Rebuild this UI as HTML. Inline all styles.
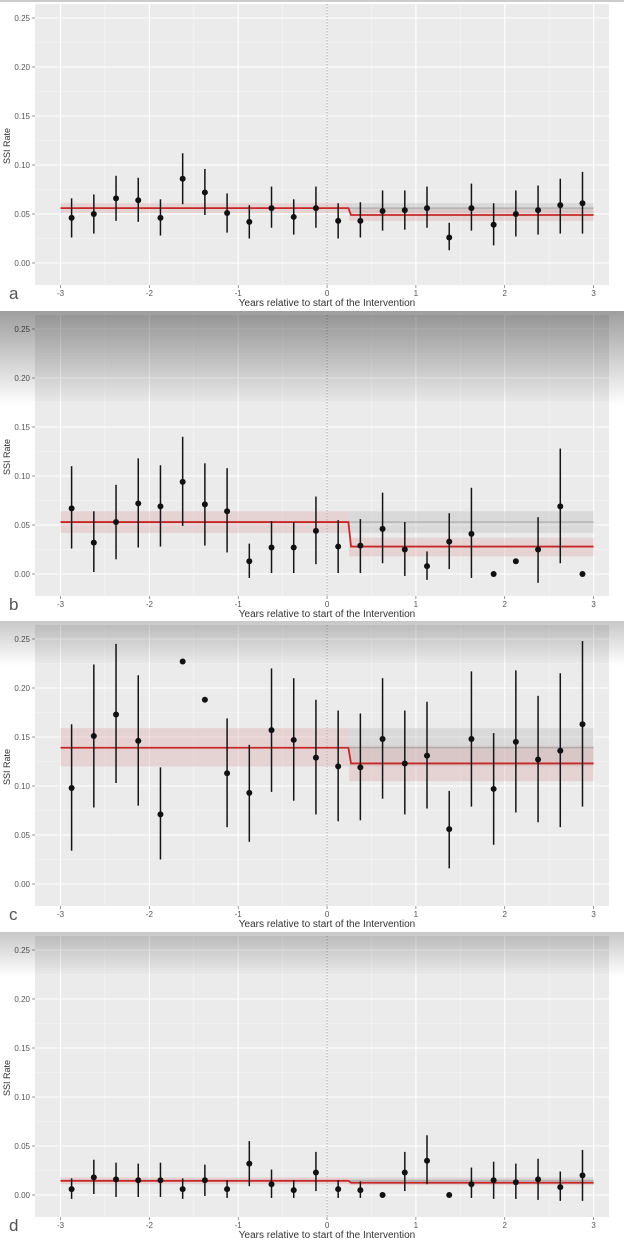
<!DOCTYPE html>
<html><head><meta charset="utf-8"><style>
html,body{margin:0;padding:0;background:#fff;}
svg{display:block;font-family:"Liberation Sans",sans-serif;}
</style></head><body>
<svg id="chart" width="624" height="1240" viewBox="0 0 624 1240" xmlns="http://www.w3.org/2000/svg">
<defs>
<linearGradient id="shadeStrong" x1="0" y1="0" x2="0" y2="1"><stop offset="0" stop-color="#000" stop-opacity="0.38"/><stop offset="1" stop-color="#000" stop-opacity="0"/></linearGradient>
<linearGradient id="shadeLight" x1="0" y1="0" x2="0" y2="1"><stop offset="0" stop-color="#000" stop-opacity="0.22"/><stop offset="1" stop-color="#000" stop-opacity="0"/></linearGradient>
</defs>
</svg>
<script>
const panelLabels = ['a','b','c','d'];
const xPoints = [-2.875,-2.625,-2.375,-2.125,-1.875,-1.625,-1.375,-1.125,-0.875,-0.625,-0.375,-0.125,0.125,0.375,0.625,0.875,1.125,1.375,1.625,1.875,2.125,2.375,2.625,2.875];
const xTicks = [-3,-2,-1,0,1,2,3];
const yTicks = [0,0.05,0.10,0.15,0.20,0.25];
const yTickLabels = ['0.00','0.05','0.10','0.15','0.20','0.25'];

const rateA = [.046,.050,.066,.064,.046,.086,.072,.051,.042,.056,.047,.056,.043,.043,.053,.054,.056,.026,.056,.039,.050,.054,.059,.061];
const lowA  = [.026,.030,.043,.042,.028,.060,.049,.031,.025,.036,.029,.036,.025,.026,.033,.034,.036,.013,.033,.018,.027,.029,.030,.030];
const highA = [.066,.070,.089,.087,.065,.112,.096,.071,.059,.078,.065,.078,.061,.062,.074,.074,.078,.041,.081,.061,.074,.079,.086,.093];
const fitA = [0.056,0.051,0.061,0.049,0.043,0.055];

const rateB = [.067,.032,.053,.072,.069,.094,.071,.064,.013,.027,.027,.044,.028,.029,.046,.025,.008,.033,.041,0,.013,.025,.069,0];
const lowB  = [.026,.002,.015,.027,.028,.049,.029,.022,-.004,.001,.001,.010,.001,.001,.011,-.002,-.006,.005,-.004,null,null,-.009,.011,null];
const highB = [.110,.064,.091,.118,.111,.140,.113,.108,.031,.054,.053,.079,.055,.056,.083,.053,.023,.062,.088,null,null,.058,.128,null];
const fitB = [0.053,0.042,0.064,0.028,0.018,0.037];

const rateC = [.098,.151,.173,.146,.071,.227,.188,.113,.093,.157,.147,.129,.120,.119,.148,.123,.131,.056,.148,.097,.145,.127,.136,.163];
const lowC  = [.034,.078,.103,.080,.025,null,null,.058,.043,.094,.085,.071,.064,.065,.087,.071,.077,.016,.079,.040,.073,.063,.058,.079];
const highC = [.163,.224,.245,.213,.119,null,null,.169,.142,.220,.210,.188,.177,.174,.210,.177,.186,.095,.217,.154,.218,.192,.215,.248];
const fitC = [0.139,0.120,0.159,0.123,0.105,0.141];

const rateD = [.006,.018,.016,.015,.015,.006,.015,.006,.032,.011,.005,.023,.006,.005,0,.023,.035,0,.011,.015,.013,.016,.008,.020];
const lowD  = [-.004,.001,-.002,-.002,-.002,-.004,-.001,-.003,.009,-.003,-.003,.004,-.003,-.003,null,.004,.011,null,-.003,-.004,-.004,-.005,-.006,-.006];
const highD = [.017,.036,.033,.032,.033,.017,.031,.015,.055,.026,.015,.044,.015,.014,null,.044,.061,null,.028,.034,.032,.037,.024,.046];
const fitD = [0.0145,0.011,0.018,0.0125,0.010,0.016];

const panelRates = [rateA,rateB,rateC,rateD];
const panelLows = [lowA,lowB,lowC,lowD];
const panelHighs = [highA,highB,highC,highD];
const panelFits = [fitA,fitB,fitC,fitD];
const panelOffsets = [0,311,621,932];

const NS='http://www.w3.org/2000/svg';
const svg=document.getElementById('chart');
function mk(tag, attrs, parent){const e=document.createElementNS(NS,tag);for(const k in attrs)e.setAttribute(k,attrs[k]);(parent||svg).appendChild(e);return e;}

const X0=60.5, PXY=88.85;
const xs = v => X0 + (v+3)*PXY;
const PL=35, PR=609;

panelLabels.forEach((lab,p)=>{
  const off=panelOffsets[p];
  const ys = v => off + 263 - v*980;
  const g=mk('g',{});
  
  
  const bg=mk('rect',{x:PL,y:off+4,width:PR-PL,height:281,fill:'#ebebeb'},g);
  
  
  // minor grid
  for(let v=0.025; v<0.27; v+=0.05){mk('line',{x1:PL,x2:PR,y1:ys(v),y2:ys(v),stroke:'#f6f6f6','stroke-width':0.6},g);}
  for(let v=-2.5; v<3; v+=1){mk('line',{x1:xs(v),x2:xs(v),y1:off+4,y2:off+285,stroke:'#f6f6f6','stroke-width':0.6},g);}
  yTicks.forEach((v,i)=>{
    mk('line',{x1:PL,x2:PR,y1:ys(v),y2:ys(v),stroke:'#fff','stroke-width':1.1},g);
    mk('line',{x1:PL-3,x2:PL,y1:ys(v),y2:ys(v),stroke:'#555','stroke-width':0.6},g);
    const t=mk('text',{x:PL-5,y:ys(v)+3,'font-size':8,fill:'#555','text-anchor':'end'},g);
    t.textContent=yTickLabels[i];
    
    
  });
  xTicks.forEach(v=>{
    mk('line',{x1:xs(v),x2:xs(v),y1:off+4,y2:off+285,stroke:'#fff','stroke-width':1.1},g);
    mk('line',{x1:xs(v),x2:xs(v),y1:off+285,y2:off+288,stroke:'#555','stroke-width':0.6},g);
    const t=mk('text',{x:xs(v),y:off+296,'font-size':8,fill:'#555','text-anchor':'middle'},g);
    t.textContent=String(v);
    
    
  });
  mk('line',{x1:xs(0),x2:xs(0),y1:off+4,y2:off+285,stroke:'#999','stroke-width':0.8,'stroke-dasharray':'1.5,1.5'},g);
  const f=panelFits[p];
  // bands
  const b1=mk('rect',{x:xs(-3),y:ys(f[2]),width:xs(0.25)-xs(-3),height:ys(f[1])-ys(f[2]),fill:'#d9a3a6','fill-opacity':0.35},g);
  
  
  const b2=mk('rect',{x:xs(0.25),y:ys(f[2]),width:xs(3)-xs(0.25),height:ys(f[1])-ys(f[2]),fill:'#bdbdbd','fill-opacity':0.4},g);
  
  
  const b3=mk('rect',{x:xs(0.25),y:ys(f[5]),width:xs(3)-xs(0.25),height:ys(f[4])-ys(f[5]),fill:'#d9a3a6','fill-opacity':0.35},g);
  
  
  const cf=mk('line',{x1:xs(0.25),x2:xs(3),y1:ys(f[0]),y2:ys(f[0]),stroke:'#a8a8a8','stroke-width':1.2},g);
  
  
  const fl=mk('path',{d:`M${xs(-3)},${ys(f[0])} L${xs(0.24)},${ys(f[0])} L${xs(0.27)},${ys(f[3])} L${xs(3)},${ys(f[3])}`,fill:'none',stroke:'#c62828','stroke-width':1.8},g);
  
  
  const r=panelRates[p], lo=panelLows[p], hi=panelHighs[p];
  xPoints.forEach((xv,i)=>{
    if(lo[i]!==null){
      const eb=mk('line',{x1:xs(xv),x2:xs(xv),y1:ys(lo[i]),y2:ys(hi[i]),stroke:'#151515','stroke-width':1.5},g);
      
      
    }
    const c=mk('circle',{cx:xs(xv),cy:ys(r[i]),r:3,fill:'#111'},g);
    
    
  });
  const yt=mk('text',{x:0,y:0,'font-size':9,fill:'#333','text-anchor':'middle',transform:`translate(10,${off+146}) rotate(-90)`},g);
  yt.textContent='SSI Rate';
  
  
  const xt=mk('text',{x:327,y:off+306,'font-size':10,fill:'#333','text-anchor':'middle'},g);
  xt.textContent='Years relative to start of the Intervention';
  
  
  const pl=mk('text',{x:9,y:off+299,'font-size':17,fill:'#555'},g);
  pl.textContent=lab;
  
  
  if(p>0){
    const sh=mk('rect',{x:0,y:off,width:624,height:p===1?95:45,fill:p===1?'url(#shadeStrong)':'url(#shadeLight)'},g);
    
    
  }
});
const topLine=mk('rect',{x:0,y:0,width:624,height:2,fill:'#ccc'});


</script>
</body></html>
